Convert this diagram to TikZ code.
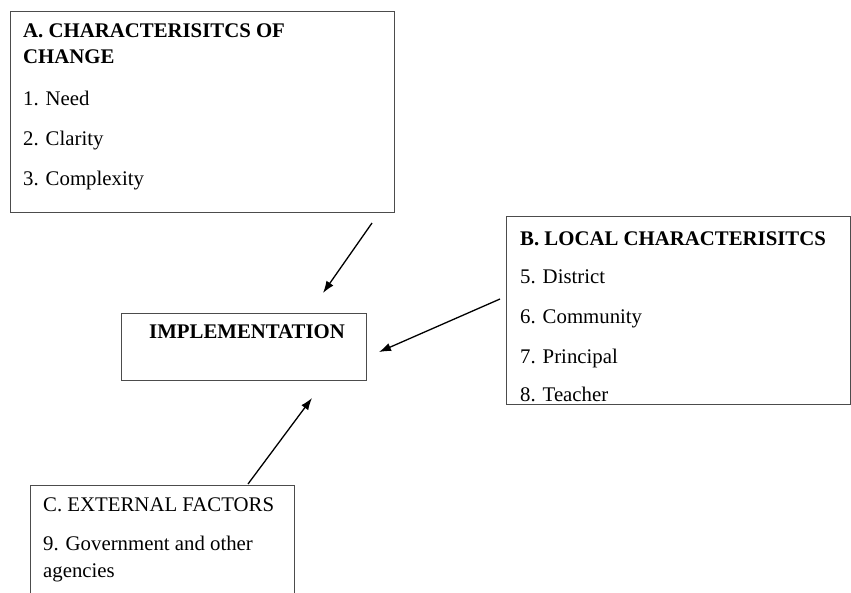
\documentclass[tikz,border=0pt]{standalone}
\usepackage{fontspec}
\setmainfont{Liberation Serif}
\usetikzlibrary{arrows.meta}
\begin{document}
\begin{tikzpicture}[x=1pt,y=-1pt,
  box/.style={draw=black!70,line width=0.9pt,inner sep=0pt,anchor=north west},
  txt/.style={anchor=base west,inner sep=0pt,font=\fontsize{20.8}{24}\selectfont},
  btxt/.style={txt,font=\fontsize{20.8}{24}\selectfont\bfseries},
  flow/.style={line width=1.3pt,-{Latex[length=12pt,width=8.5pt]}}]
\useasboundingbox (0,0) rectangle (851,592);
\clip (0,0) rectangle (851,592);

% A: characteristics of change
\node[box,minimum width=384pt,minimum height=201pt] (boxA) at (10,11) {};
\node[btxt] (a0) at (23,37) {A. CHARACTERISITCS OF};
\node[btxt] (a1) at (23,63) {CHANGE};
\node[txt] (a2) at (23,105) {1. Need};
\node[txt] (a3) at (23,145) {2. Clarity};
\node[txt] (a4) at (23,185) {3. Complexity};

% B: local characteristics
\node[box,minimum width=344pt,minimum height=188pt] (boxB) at (506,216) {};
\node[btxt] (b0) at (520,245) {B. LOCAL CHARACTERISITCS};
\node[txt] (b1) at (520,283) {5. District};
\node[txt] (b2) at (520,323) {6. Community};
\node[txt] (b3) at (520,363) {7. Principal};
\node[txt] (b4) at (520,401) {8. Teacher};

% Implementation
\node[box,minimum width=245pt,minimum height=67pt] (impl) at (121,313) {};
\node[btxt] (i0) at (149,338) {IMPLEMENTATION};

% C: external factors
\node[box,minimum width=264pt,minimum height=130pt] (boxC) at (30,485) {};
\node[txt] (c0) at (43,511) {C. EXTERNAL FACTORS};
\node[txt] (c1) at (43,550) {9. Government and other};
\node[txt] (c2) at (43,577) {agencies};

% connector ends
\coordinate (fromA) at (372,223);
\coordinate (toA) at (323,293);
\coordinate (fromB) at (500,299);
\coordinate (toB) at (379,352);
\coordinate (fromC) at (248,484);
\coordinate (toC) at (312,398);

\draw[flow] (fromA) -- (toA);
\draw[flow] (fromB) -- (toB);
\draw[flow] (fromC) -- (toC);
\end{tikzpicture}
\end{document}
